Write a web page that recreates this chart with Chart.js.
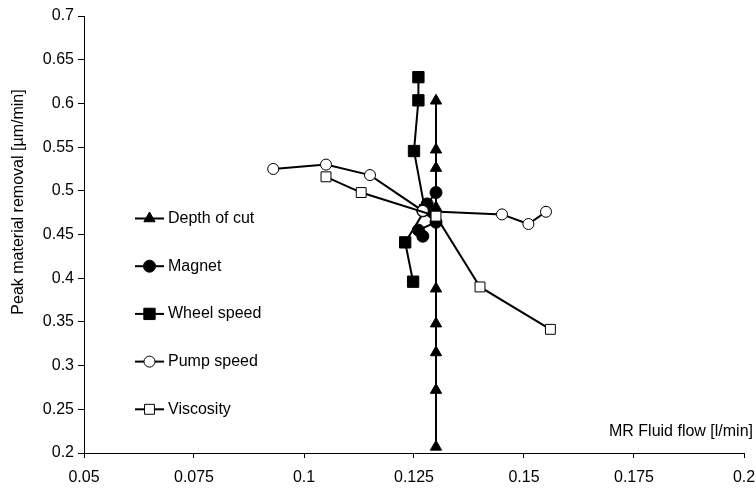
<!DOCTYPE html>
<html>
<head>
<meta charset="utf-8">
<script src="https://cdn.jsdelivr.net/npm/chart.js@4.4.0/dist/chart.umd.min.js"></script>
<style>
  html, body { margin: 0; padding: 0; background: #fff; }
  #wrap { width: 756px; height: 489px; }
</style>
</head>
<body>
<div id="wrap"><canvas id="chart" width="756" height="489"></canvas></div>
<script>
// axis ticks
const xTicks = [0.05, 0.075, 0.1, 0.125, 0.15, 0.175, 0.2]
const yTicks = [0.2, 0.25, 0.3, 0.35, 0.4, 0.45, 0.5, 0.55, 0.6, 0.65, 0.7]

const xTitle = 'MR Fluid flow [l/min]'
const yTitle = 'Peak material removal [µm/min]'

// series
const depthX = [0.13, 0.13, 0.13, 0.13, 0.13, 0.13, 0.13, 0.13, 0.13]
const depthY = [0.603, 0.547, 0.526, 0.481, 0.388, 0.348, 0.315, 0.272, 0.207]

const magnetX = [0.13, 0.128, 0.127, 0.13, 0.126, 0.127]
const magnetY = [0.498, 0.485, 0.477, 0.464, 0.455, 0.448]

const wheelX = [0.126, 0.126, 0.125, 0.1275, 0.123, 0.1248]
const wheelY = [0.630, 0.6035, 0.5455, 0.478, 0.441, 0.396]

const pumpX = [0.093, 0.105, 0.115, 0.127, 0.145, 0.151, 0.155]
const pumpY = [0.525, 0.530, 0.518, 0.477, 0.473, 0.462, 0.476]

const viscX = [0.105, 0.113, 0.13, 0.14, 0.156]
const viscY = [0.516, 0.498, 0.471, 0.390, 0.3415]

const FONT = "'Liberation Sans', Arial, sans-serif"
Chart.defaults.font.family = FONT
Chart.defaults.font.size = 16
Chart.defaults.color = '#000'

function pts(xs, ys){
    return xs.map((x, i) => ({x: x, y: ys[i]}))
}

function series(label, xs, ys, style, radius, fill, order){
    return {
        label: label,
        data: pts(xs, ys),
        showLine: true,
        borderColor: '#000',
        borderWidth: 2,
        pointStyle: style,
        pointRadius: radius,
        pointHoverRadius: radius,
        pointBackgroundColor: fill,
        pointBorderColor: '#000',
        pointBorderWidth: 1,
        order: order
    }
}

function drawMarker(ctx, style, r, x, y){
    ctx.beginPath()
    if(style === 'circle'){
        ctx.arc(x, y, r, 0, Math.PI*2)
    }else if(style === 'rect'){
        const s = Math.SQRT1_2 * r
        ctx.rect(x - s, y - s, 2*s, 2*s)
    }else if(style === 'triangle'){
        ctx.moveTo(x, y - r)
        ctx.lineTo(x + 0.866*r, y + r/2)
        ctx.lineTo(x - 0.866*r, y + r/2)
        ctx.closePath()
    }
    ctx.fill()
    ctx.stroke()
}

// legend sits inside the plot, plus Excel-style axis titles
const insideLegend = {
    id: 'insideLegend',
    afterDraw(chart){
        const ctx = chart.ctx
        ctx.save()
        ctx.font = '16px ' + FONT
        ctx.textBaseline = 'middle'
        chart.data.datasets.forEach((ds, i) => {
            const y = 218.5 + i*47.7
            ctx.strokeStyle = '#000'
            ctx.lineWidth = 2
            ctx.beginPath()
            ctx.moveTo(135, y)
            ctx.lineTo(164, y)
            ctx.stroke()
            ctx.lineWidth = 1
            ctx.fillStyle = ds.pointBackgroundColor
            drawMarker(ctx, ds.pointStyle, ds.pointRadius, 149.5, y)
            ctx.fillStyle = '#000'
            ctx.textAlign = 'left'
            ctx.fillText(ds.label, 168, y)
        })

        ctx.textAlign = 'right'
        ctx.fillText(xTitle, 753, 432)

        ctx.translate(19, 202)
        ctx.rotate(-Math.PI/2)
        ctx.textAlign = 'center'
        ctx.fillText(yTitle, 0, 0)
        ctx.restore()
    }
}

new Chart(document.getElementById('chart'), {
    type: 'scatter',
    data: {
        datasets: [
            series('Depth of cut', depthX, depthY, 'triangle', 6.5, '#000', 4),
            series('Magnet', magnetX, magnetY, 'circle', 6, '#000', 3),
            series('Wheel speed', wheelX, wheelY, 'rect', 8, '#000', 2),
            series('Pump speed', pumpX, pumpY, 'circle', 5.5, '#fff', 1),
            series('Viscosity', viscX, viscY, 'rect', 7, '#fff', 0)
        ]
    },
    options: {
        responsive: false,
        animation: false,
        layout: { padding: { left: 0, right: 12, top: 16, bottom: 0 } },
        plugins: {
            legend: { display: false },
            tooltip: { enabled: false }
        },
        scales: {
            x: {
                type: 'linear',
                min: 0.05,
                max: 0.2,
                afterBuildTicks: s => { s.ticks = xTicks.map(v => ({value: v})) },
                afterFit: s => { s.height = 36; s.paddingLeft = 0; s.paddingRight = 0 },
                ticks: { color: '#000', padding: 10, maxRotation: 0, autoSkip: false, callback: v => String(v) },
                grid: { drawOnChartArea: false, drawTicks: true, tickLength: 5, color: '#000' },
                border: { color: '#000', width: 1 }
            },
            y: {
                type: 'linear',
                min: 0.2,
                max: 0.7,
                afterBuildTicks: s => { s.ticks = yTicks.map(v => ({value: v})) },
                afterFit: s => { s.width = 84; s.paddingTop = 0; s.paddingBottom = 0 },
                ticks: { color: '#000', padding: 4, autoSkip: false, callback: v => String(v) },
                grid: { drawOnChartArea: false, drawTicks: true, tickLength: 6, color: '#000' },
                border: { color: '#000', width: 1 }
            }
        }
    },
    plugins: [insideLegend]
})
</script>
</body>
</html>
